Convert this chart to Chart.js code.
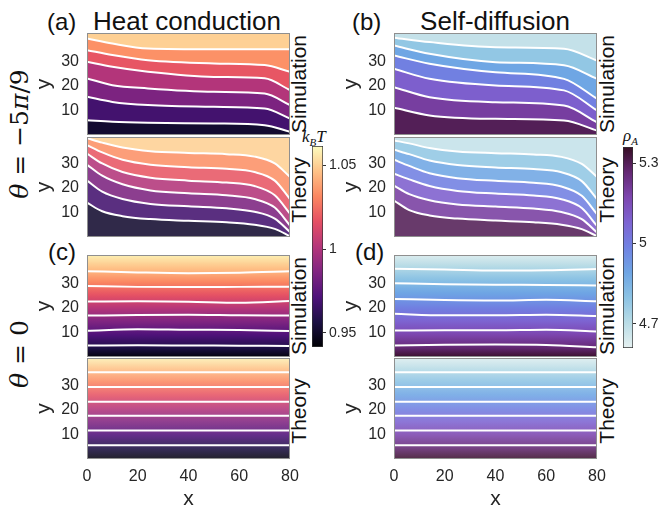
<!DOCTYPE html>
<html><head><meta charset="utf-8">
<script src="https://cdn.jsdelivr.net/npm/chart.js@4/dist/chart.umd.min.js"></script>
<style>
html,body{margin:0;padding:0;background:#fff;}
body{width:660px;height:508px;position:relative;overflow:hidden;font-family:'Liberation Sans',Arial,sans-serif;color:#111;}
canvas{position:absolute;}
.t{position:absolute;white-space:nowrap;line-height:1;}
.rot{transform:translate(-50%,-50%) rotate(-90deg);}
.ctr{transform:translateX(-50%);}
.math{font-family:'DejaVu Serif','Liberation Serif',serif;}
</style></head><body>

<div class="t ctr" style="left:187px;top:8px;font-size:26px;">Heat conduction</div>
<div class="t ctr" style="left:495px;top:8px;font-size:26px;">Self-diffusion</div>
<div class="t" style="left:47px;top:10px;font-size:24px;">(a)</div>
<div class="t" style="left:352px;top:10px;font-size:24px;">(b)</div>
<div class="t" style="left:48px;top:240px;font-size:24px;">(c)</div>
<div class="t" style="left:355px;top:240px;font-size:24px;">(d)</div>

<div class="t rot" style="left:298px;top:84px;font-size:21px;">Simulation</div>
<div class="t rot" style="left:298px;top:190px;font-size:21px;">Theory</div>
<div class="t rot" style="left:298px;top:306px;font-size:21px;">Simulation</div>
<div class="t rot" style="left:298px;top:411px;font-size:21px;">Theory</div>
<div class="t rot" style="left:606px;top:84px;font-size:21px;">Simulation</div>
<div class="t rot" style="left:606px;top:190px;font-size:21px;">Theory</div>
<div class="t rot" style="left:606px;top:306px;font-size:21px;">Simulation</div>
<div class="t rot" style="left:606px;top:411px;font-size:21px;">Theory</div>

<div class="t rot math" style="left:19px;top:134px;font-size:25px;"><i>θ</i> = −5<i>π</i>/9</div>
<div class="t rot math" style="left:19px;top:354px;font-size:25px;"><i>θ</i> = 0</div>

<div class="t" style="left:302px;top:128px;font-size:17px;font-family:'Liberation Serif',serif;"><i>k</i><sub style="font-size:11px;"><i>B</i></sub><i>T</i></div>
<div class="t" style="left:623px;top:127px;font-size:17px;font-family:'Liberation Serif',serif;"><i>ρ</i><sub style="font-size:11px;"><i>A</i></sub></div>

<canvas id="pA1"></canvas><canvas id="pA2"></canvas><canvas id="pC1"></canvas><canvas id="pC2"></canvas>
<canvas id="pB1"></canvas><canvas id="pB2"></canvas><canvas id="pD1"></canvas><canvas id="pD2"></canvas>
<canvas id="cbHeat"></canvas><canvas id="cbDens"></canvas>

<script>
// ---------------- data ----------------
const xTicks = [0, 20, 40, 60, 80];
const yTicks = [10, 20, 30];

// contour levels (bottom -> top) and edge values
const heatLevels = [0.960, 0.9765, 0.993, 1.0095, 1.026, 1.0425];
const heatEdges = [0.944, 1.058];
const heatBandValues = [0.952, 0.968, 0.985, 1.001, 1.018, 1.034, 1.05];
const densLevels = [5.247, 5.144, 5.041, 4.939, 4.836, 4.733];
const densEdges = [5.35, 4.63];
const densBandValues = [5.30, 5.196, 5.093, 4.99, 4.887, 4.784, 4.68];

// colorbars
const heatBarRange = [0.9416, 1.0614];
const heatBarTicks = [0.95, 1, 1.05];
const densBarRange = [4.61, 5.36];
const densBarTicks = [4.7, 5, 5.3];

// (a) simulation contour lines, y at simA_x (bottom -> top)
const simA_x = [0, 10, 24, 50, 70, 80];
const simA_lines = [
  [6.0, 5.4, 5.0, 4.7, 4.0, 1.3],
  [15.6, 13.5, 12.2, 11.5, 10.8, 6.7],
  [23.1, 20.3, 19.0, 17.6, 16.9, 12.2],
  [29.9, 27.8, 25.8, 23.7, 23.1, 18.3],
  [34.6, 32.6, 30.5, 29.2, 28.5, 25.8],
  [39.4, 37.3, 35.3, 35.0, 35.0, 35.0]
];
// (a) theory
const thA_x = [0, 6, 14, 25, 40, 55, 66, 74, 80];
const thA_lines = [
  [14.0, 10.5, 8.5, 7.3, 6.6, 6.0, 5.0, 3.3, 0.3],
  [23.0, 18.5, 15.5, 13.5, 12.5, 11.7, 10.3, 7.5, 2.0],
  [29.5, 25.0, 21.5, 19.0, 17.8, 17.0, 15.5, 12.0, 4.7],
  [34.0, 30.0, 26.5, 24.2, 23.0, 22.2, 20.8, 17.0, 9.5],
  [37.5, 34.5, 31.5, 29.5, 28.5, 27.8, 26.5, 23.0, 15.5],
  [40.3, 38.5, 36.5, 35.0, 34.3, 33.8, 32.8, 30.0, 24.5]
];
// (b) simulation
const simB_x = [0, 14, 40, 67, 80];
const simB_lines = [
  [11.1, 8.0, 6.6, 5.9, 1.8],
  [19.5, 15.4, 13.4, 12.0, 5.2],
  [27.0, 22.9, 20.2, 18.2, 10.0],
  [32.4, 29.1, 25.6, 22.9, 14.8],
  [36.5, 33.1, 29.7, 28.4, 22.9],
  [39.7, 37.9, 35.8, 35.2, 30.4]
];
// (b) theory
const thB_x = [0, 6, 14, 25, 40, 55, 66, 74, 80];
const thB_lines = [
  [14.9, 11.0, 8.8, 7.5, 6.7, 6.0, 5.0, 3.2, 0.3],
  [21.0, 17.5, 15.0, 13.3, 12.4, 11.6, 10.2, 7.3, 1.8],
  [25.8, 23.5, 20.8, 18.8, 17.7, 16.9, 15.4, 11.8, 4.5],
  [31.5, 29.0, 26.0, 24.0, 22.9, 22.1, 20.6, 16.8, 9.3],
  [35.6, 33.8, 31.2, 29.4, 28.4, 27.7, 26.4, 22.8, 15.5],
  [39.4, 38.2, 36.3, 34.9, 34.2, 33.7, 32.7, 29.8, 24.5]
];
// (c) simulation
const simC_x = [0, 20, 40, 60, 80];
const simC_lines = [
  [4.7, 4.8, 4.7, 4.6, 4.5],
  [10.7, 11.3, 11.1, 11.0, 10.6],
  [16.9, 17.1, 17.2, 17.0, 16.9],
  [22.6, 22.7, 22.5, 22.1, 22.8],
  [29.0, 28.6, 28.5, 28.6, 28.7],
  [35.0, 34.5, 34.2, 34.4, 35.0]
];
// (d) simulation
const simD_x = [0, 20, 40, 60, 80];
const simD_lines = [
  [4.7, 5.0, 5.1, 4.9, 4.0],
  [10.8, 10.9, 10.9, 11.1, 10.4],
  [17.6, 17.0, 17.0, 17.2, 16.7],
  [23.7, 23.2, 23.0, 23.3, 22.7],
  [30.1, 29.7, 29.5, 29.4, 29.2],
  [36.0, 35.7, 35.3, 35.4, 35.9]
];
// (c),(d) theory: flat contour heights
const th0_x = [0, 80];
const thC_levelsY = [5.6, 11.6, 17.6, 23.4, 29.4, 35.4];
const thD_levelsY = [5.6, 11.6, 17.6, 23.4, 29.4, 35.4];

// ---------------- colormaps (style) ----------------
const magmaStops = [[0,0,4],[28,16,68],[79,18,123],[129,37,129],[181,54,122],[229,80,100],[251,135,97],[254,194,135],[252,253,191]];
const denseStops = [[230,241,241],[185,220,230],[140,195,228],[110,165,228],[112,130,226],[125,100,210],[125,70,175],[100,40,115],[54,14,36]];
function cmap(stops, t, a) {
  t = Math.max(0, Math.min(1, t));
  const p = t * (stops.length - 1);
  const i = Math.min(Math.floor(p), stops.length - 2);
  const f = p - i;
  const c = stops[i].map((v, k) => Math.round(v + (stops[i + 1][k] - v) * f));
  return 'rgba(' + c[0] + ',' + c[1] + ',' + c[2] + ',' + a + ')';
}
const heatColor = (v, a) => cmap(magmaStops, (v - heatBarRange[0]) / (heatBarRange[1] - heatBarRange[0]), a);
const densColor = (v, a) => cmap(denseStops, (v - densBarRange[0]) / (densBarRange[1] - densBarRange[0]), a);

Chart.defaults.font.family = "'Liberation Sans', Arial, sans-serif";
Chart.defaults.color = '#262626';

const framePlugin = {
  id: 'frame',
  afterDatasetsDraw(chart) {
    const a = chart.chartArea, ctx = chart.ctx;
    ctx.save();
    ctx.strokeStyle = '#8f8f8f';
    ctx.lineWidth = 1;
    ctx.strokeRect(a.left + 0.5, a.top + 0.5, a.right - a.left - 1, a.bottom - a.top - 1);
    ctx.restore();
  }
};

const mean = arr => arr.reduce((s, v) => s + v, 0) / arr.length;

function makePanel(id, g, xs, lines, kind, gradient, alpha) {
  const colorFn = kind === 'heat' ? heatColor : densColor;
  const levels = kind === 'heat' ? heatLevels : densLevels;
  const edges = kind === 'heat' ? heatEdges : densEdges;
  const bandVals = kind === 'heat' ? heatBandValues : densBandValues;
  const n = lines.length;
  const cv = document.getElementById(id);
  const bottom = !!g.bottomAxis;
  const H = g.plotH + 1 + (bottom ? 54 : 1);
  cv.width = 277; cv.height = H;
  cv.style.left = (g.plotL - 60) + 'px';
  cv.style.top = (g.plotT - 1) + 'px';

  function bandColor(i) {
    if (!gradient) return colorFn(bandVals[i], alpha);
    const lowY = i === 0 ? 0 : mean(lines[i - 1]);
    const highY = i < n ? mean(lines[i]) : g.yMax;
    const lowV = i === 0 ? edges[0] : levels[i - 1];
    const highV = i < n ? levels[i] : edges[1];
    return (ctx) => {
      const chart = ctx.chart;
      if (!chart.chartArea) return colorFn(bandVals[i], alpha);
      const ys = chart.scales.y;
      const y0 = ys.getPixelForValue(lowY), y1 = ys.getPixelForValue(highY);
      const gr = chart.ctx.createLinearGradient(0, y0, 0, y1);
      for (let k = 0; k <= 8; k++) {
        const f = k / 8;
        gr.addColorStop(f, colorFn(lowV + (highV - lowV) * f, alpha));
      }
      return gr;
    };
  }

  const datasets = [];
  for (let i = 0; i < n; i++) {
    datasets.push({
      data: xs.map((x, k) => ({ x: x, y: lines[i][k] })),
      borderColor: '#ffffff', borderWidth: 2, pointRadius: 0,
      cubicInterpolationMode: 'monotone',
      fill: i === 0 ? 'start' : '-1',
      backgroundColor: bandColor(i)
    });
  }
  datasets.push({
    data: xs.map((x, k) => ({ x: x, y: lines[n - 1][k] })),
    borderColor: 'rgba(0,0,0,0)', borderWidth: 0, pointRadius: 0,
    cubicInterpolationMode: 'monotone',
    fill: 'end',
    backgroundColor: bandColor(n)
  });

  return new Chart(cv, {
    type: 'line',
    data: { datasets: datasets },
    plugins: [framePlugin],
    options: {
      responsive: false, animation: false, devicePixelRatio: 1,
      layout: { padding: { top: 1, bottom: bottom ? 0 : 1, left: 0, right: 14 } },
      plugins: { legend: { display: false }, tooltip: { enabled: false }, filler: { drawTime: 'beforeDatasetsDraw' } },
      scales: {
        x: {
          type: 'linear', min: 0, max: 80, display: bottom,
          afterBuildTicks: s => { s.ticks = xTicks.map(v => ({ value: v })); },
          afterFit: s => { if (bottom) { s.height = 54; } else { s.height = 0; } s.paddingLeft = 0; s.paddingRight = 0; },
          grid: { display: false, drawTicks: false }, border: { display: false },
          ticks: { padding: 8, font: { size: 16 }, color: '#262626', maxRotation: 0, autoSkip: false, callback: v => String(v) },
          title: { display: true, text: 'x', font: { size: 21 }, color: '#262626', padding: { top: 0, bottom: 1 } }
        },
        y: {
          type: 'linear', min: 0, max: g.yMax,
          afterBuildTicks: s => { s.ticks = yTicks.map(v => ({ value: v })); },
          afterFit: s => { s.width = 60; s.paddingTop = 0; s.paddingBottom = 0; },
          grid: { display: false, drawTicks: false }, border: { display: false },
          ticks: { padding: 8, font: { size: 16 }, color: '#262626', autoSkip: false, callback: v => String(v) },
          title: { display: true, text: 'y', font: { size: 21 }, color: '#262626', padding: { top: 5, bottom: 0 } }
        }
      }
    }
  });
}

const rowSimTop = { plotT: 33, plotH: 102, yMax: 41.6 };
const rowThTop = { plotT: 137, plotH: 100, yMax: 40.8 };
const rowSimBot = { plotT: 255, plotH: 102, yMax: 41.6 };
const rowThBot = { plotT: 358, plotH: 101, yMax: 41.2, bottomAxis: true };
const colL = 87, colR = 394;
const g = (row, col) => Object.assign({ plotL: col }, row);
const flat = lv => lv.map(v => [v, v]);

makePanel('pA1', g(rowSimTop, colL), simA_x, simA_lines, 'heat', false, 1);
makePanel('pA2', g(rowThTop, colL), thA_x, thA_lines, 'heat', false, 0.88);
makePanel('pC1', g(rowSimBot, colL), simC_x, simC_lines, 'heat', true, 1);
makePanel('pC2', g(rowThBot, colL), th0_x, flat(thC_levelsY), 'heat', true, 0.88);
makePanel('pB1', g(rowSimTop, colR), simB_x, simB_lines, 'dens', false, 1);
makePanel('pB2', g(rowThTop, colR), thB_x, thB_lines, 'dens', false, 0.88);
makePanel('pD1', g(rowSimBot, colR), simD_x, simD_lines, 'dens', true, 1);
makePanel('pD2', g(rowThBot, colR), th0_x, flat(thD_levelsY), 'dens', true, 0.88);

function makeBar(id, left, top, width, axisW, range, ticks, colorFn) {
  const cv = document.getElementById(id);
  cv.width = width; cv.height = 203;
  cv.style.left = left + 'px'; cv.style.top = top + 'px';
  return new Chart(cv, {
    type: 'bar',
    data: { labels: [''], datasets: [{
      data: [range],
      borderColor: '#333', borderWidth: 1, borderSkipped: false,
      barPercentage: 1, categoryPercentage: 1,
      backgroundColor: (ctx) => {
        const chart = ctx.chart, a = chart.chartArea;
        if (!a) return colorFn((range[0] + range[1]) / 2, 1);
        const gr = chart.ctx.createLinearGradient(0, a.bottom, 0, a.top);
        for (let k = 0; k <= 24; k++) {
          const f = k / 24;
          gr.addColorStop(f, colorFn(range[0] + (range[1] - range[0]) * f, 1));
        }
        return gr;
      }
    }] },
    options: {
      responsive: false, animation: false, devicePixelRatio: 1,
      layout: { padding: { top: 1, bottom: 1, left: 1, right: 0 } },
      plugins: { legend: { display: false }, tooltip: { enabled: false } },
      scales: {
        x: { display: false },
        y: {
          position: 'right', min: range[0], max: range[1],
          afterBuildTicks: s => { s.ticks = ticks.map(v => ({ value: v })); },
          afterFit: s => { s.width = axisW; s.paddingTop = 0; s.paddingBottom = 0; },
          grid: { drawOnChartArea: false, drawTicks: true, tickLength: 3, color: '#333' },
          border: { display: false },
          ticks: { padding: 3, font: { size: 14 }, color: '#262626', autoSkip: false, callback: v => String(v) }
        }
      }
    }
  });
}
makeBar('cbHeat', 311, 145, 60, 48, heatBarRange, heatBarTicks, heatColor);
makeBar('cbDens', 622, 146, 38, 27, densBarRange, densBarTicks, densColor);
</script>
</body></html>
